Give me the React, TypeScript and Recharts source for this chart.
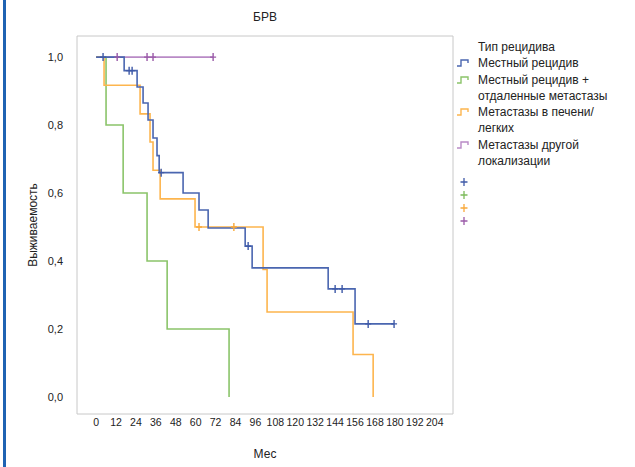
import React from 'react';
import { ComposedChart, Line, Scatter, XAxis, YAxis, ReferenceArea } from 'recharts';

// Kaplan-Meier steps (months, survival)
const localT = [0, 16.9, 24.7, 28.3, 31.3, 34.3, 36.7, 38, 52.4, 62, 67.5, 89.8, 94, 139.8, 156, 179.5];
const localS = [1, 0.96, 0.912, 0.865, 0.815, 0.762, 0.71, 0.66, 0.6, 0.55, 0.497, 0.444, 0.38, 0.318, 0.215, 0.215];
const localCensT = [4.2, 19.9, 21.7, 39.2, 91.6, 144, 148.2, 163.9, 179.5];
const localCensS = [1, 0.96, 0.96, 0.66, 0.444, 0.318, 0.318, 0.215, 0.215];

const distantT = [0, 6, 16.3, 30.7, 42.8, 80.1];
const distantS = [1, 0.8, 0.6, 0.4, 0.2, 0];

const liverT = [0, 4.8, 26.5, 32.5, 34.3, 38.6, 59.6, 100.6, 103, 154.8, 166.9];
const liverS = [1, 0.917, 0.833, 0.75, 0.667, 0.583, 0.5, 0.375, 0.25, 0.125, 0];
const liverCensT = [62, 83];
const liverCensS = [0.5, 0.5];

const otherT = [0, 70.5];
const otherS = [1, 1];
const otherCensT = [12.7, 30.7, 34.3, 70.5];
const otherCensS = [1, 1, 1, 1];

const xTicks = [0, 12, 24, 36, 48, 60, 72, 84, 96, 108, 120, 132, 144, 156, 168, 180, 192, 204];
const yTicks = [0, 0.2, 0.4, 0.6, 0.8, 1.0];

const seriesNames = ['Местный рецидив', 'Местный рецидив + отдаленные метастазы', 'Метастазы в печени/ легких', 'Метастазы другой локализации'];
const legendLines = [['Местный рецидив'], ['Местный рецидив +', 'отдаленные метастазы'], ['Метастазы в печени/', 'легких'], ['Метастазы другой', 'локализации']];
const lineColors = ['#4a66b0', '#8bc46a', '#fdb54e', '#b98ac6'];
const markColors = ['#3f5aa8', '#7cbb5a', '#f9a93a', '#9a5aa8'];

const toPoints = (t: number[], s: number[]) => t.map((v, i) => ({ t: v, s: s[i] }));

const FONT = '"Liberation Sans", Arial, sans-serif';

const censorShape = (color: string) => (props: any) => {
  const { cx, cy } = props;
  if (cx == null || cy == null) return null;
  return (
    <path d={`M${cx},${cy - 4}V${cy + 4}M${cx - 3},${cy}H${cx + 3}`} stroke={color} strokeWidth={1.4} fill="none" />
  );
};

const StepIcon = ({ color }: { color: string }) => (
  <svg width={14} height={10} style={{ position: 'absolute', left: 0, top: 3 }}>
    <path d="M1,8H5V2H12V5" stroke={color} strokeWidth={1.4} fill="none" />
  </svg>
);

const KMLegend = () => (
  <div style={{ position: 'absolute', left: 456, top: 39, fontFamily: FONT, fontSize: 12, color: '#222', lineHeight: '16.3px' }}>
    <div style={{ paddingLeft: 22 }}>Тип рецидива</div>
    {legendLines.map((lines, i) => (
      <div key={seriesNames[i]} style={{ position: 'relative', paddingLeft: 22 }}>
        <StepIcon color={lineColors[i]} />
        {lines.map((l) => (
          <div key={l}>{l}</div>
        ))}
      </div>
    ))}
    <svg width={14} height={60} style={{ display: 'block', marginLeft: 2, marginTop: 4 }}>
      {markColors.map((c, i) => (
        <path key={c} d={`M6,${5 + i * 13}V${13 + i * 13}M2.5,${9 + i * 13}H9.5`} stroke={c} strokeWidth={1.3} fill="none" />
      ))}
    </svg>
  </div>
);

export default function App() {
  const tickStyle = { fontSize: 10.5, fill: '#222', fontFamily: FONT };
  return (
    <div style={{ position: 'absolute', left: 0, top: 0, width: 635, height: 467, background: '#fff', overflow: 'hidden' }}>
      <div style={{ position: 'absolute', left: 3, top: 0, width: 3, height: 467, background: '#1f63b3' }} />
      <div style={{ position: 'absolute', left: 77, width: 376, top: 10, textAlign: 'center', fontFamily: FONT, fontSize: 12, color: '#222' }}>
        БРВ
      </div>
      <ComposedChart width={635} height={467} margin={{ top: 36, right: 182, bottom: 23, left: 37 }}>
        <XAxis
          dataKey="t"
          type="number"
          domain={[-11.5, 215]}
          ticks={xTicks}
          allowDataOverflow
          axisLine={false}
          tickLine={false}
          tickSize={4}
          tickMargin={1}
          interval={0}
          height={30}
          tick={tickStyle}
          label={{ value: 'Мес', position: 'insideBottom', offset: -14, style: { fontSize: 12, fill: '#222', fontFamily: FONT } }}
        />
        <YAxis
          dataKey="s"
          type="number"
          domain={[-0.05, 1.062]}
          ticks={yTicks}
          allowDataOverflow
          axisLine={false}
          tickLine={false}
          tickSize={6}
          tickMargin={8}
          width={40}
          tick={{ ...tickStyle, fontSize: 11 }}
          tickFormatter={(v: number) => v.toFixed(1).replace('.', ',')}
          label={{ value: 'Выживаемость', angle: -90, position: 'insideLeft', offset: -4, style: { fontSize: 12, fill: '#222', fontFamily: FONT, textAnchor: 'middle' } }}
        />
        <ReferenceArea x1={-11.5} x2={215} y1={-0.05} y2={1.062} fill="none" stroke="#c8c8c8" strokeWidth={1} ifOverflow="extendDomain" />
        <Line data={toPoints(otherT, otherS)} dataKey="s" type="stepAfter" stroke={lineColors[3]} strokeWidth={1.6} dot={false} isAnimationActive={false} name={seriesNames[3]} />
        <Line data={toPoints(distantT, distantS)} dataKey="s" type="stepAfter" stroke={lineColors[1]} strokeWidth={1.6} dot={false} isAnimationActive={false} name={seriesNames[1]} />
        <Line data={toPoints(liverT, liverS)} dataKey="s" type="stepAfter" stroke={lineColors[2]} strokeWidth={1.6} dot={false} isAnimationActive={false} name={seriesNames[2]} />
        <Line data={toPoints(localT, localS)} dataKey="s" type="stepAfter" stroke={lineColors[0]} strokeWidth={1.6} dot={false} isAnimationActive={false} name={seriesNames[0]} />
        <Scatter data={toPoints(otherCensT, otherCensS)} dataKey="s" shape={censorShape(markColors[3])} isAnimationActive={false} />
        <Scatter data={toPoints(liverCensT, liverCensS)} dataKey="s" shape={censorShape(markColors[2])} isAnimationActive={false} />
        <Scatter data={toPoints(localCensT, localCensS)} dataKey="s" shape={censorShape(markColors[0])} isAnimationActive={false} />
      </ComposedChart>
      <KMLegend />
    </div>
  );
}
